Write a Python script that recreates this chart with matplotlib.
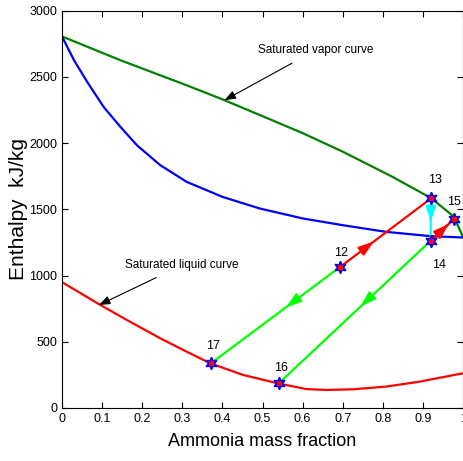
import numpy as np
import matplotlib
matplotlib.use("Agg")
import matplotlib.pyplot as plt

# saturated vapor curve (dark green)
vap_x = [0.0, 0.146, 0.311, 0.40, 0.493, 0.60, 0.70, 0.824, 0.92, 0.977, 1.0]
vap_h = [2805, 2625, 2436, 2330, 2212, 2075, 1935, 1745, 1585, 1445, 1290]

# second vapor curve (blue)
blue_x = [0.0, 0.03, 0.063, 0.104, 0.146, 0.187, 0.245, 0.311, 0.40, 0.493, 0.60, 0.70, 0.807, 0.92, 1.0]
blue_h = [2805, 2625, 2461, 2272, 2121, 1983, 1833, 1707, 1594, 1506, 1431, 1380, 1330, 1297, 1287]

# saturated liquid curve (red)
liq_x = [0.0, 0.096, 0.162, 0.245, 0.303, 0.37, 0.452, 0.54, 0.609, 0.659, 0.725, 0.807, 0.89, 1.0]
liq_h = [950, 777, 664, 526, 437, 337, 249, 185, 143, 136, 141, 161, 198, 262]

# state points
pt_names = ["12", "13", "14", "15", "16", "17"]
pt_x = [0.694, 0.92, 0.919, 0.977, 0.54, 0.371]
pt_h = [1066, 1582, 1262, 1425, 185, 337]

# process lines: (from, to, colour, arrow position along segment)
paths = [("12", "13", "#ff0000", 0.37),
         ("14", "15", "#ff0000", 0.78),
         ("13", "14", "#00ffff", 0.55),
         ("12", "17", "#00ff00", 0.42),
         ("14", "16", "#00ff00", 0.46)]

# label offsets for state point numbers (in data units)
lbl_dx = {"12": 0.002, "13": 0.01, "14": 0.021, "15": 0.0, "16": 0.007, "17": 0.006}
lbl_dh = {"12": 103, "13": 138, "14": -184, "15": 131, "16": 117, "17": 131}

plt.rcParams['font.family'] = ['Liberation Sans', 'DejaVu Sans']

fig = plt.figure(figsize=(4.64, 4.61), dpi=100)
ax = fig.add_axes([0.1336, 0.115, 0.8644, 0.862])

ax.plot(vap_x, vap_h, color="#008000", lw=1.6)
ax.plot(blue_x, blue_h, color="#0000ff", lw=1.6)
ax.plot(liq_x, liq_h, color="#ff0000", lw=1.6)

pts = {n: (x, h) for n, x, h in zip(pt_names, pt_x, pt_h)}
for a, b, c, f in paths:
    (x0, h0), (x1, h1) = pts[a], pts[b]
    ax.plot([x0, x1], [h0, h1], color=c, lw=1.6)
    tx, th = x0 + f * (x1 - x0), h0 + f * (h1 - h0)
    sx, sh = x0 + (f - 0.05) * (x1 - x0), h0 + (f - 0.05) * (h1 - h0)
    ax.annotate("", xy=(tx, th), xytext=(sx, sh),
                arrowprops=dict(arrowstyle="-|>,head_length=0.9,head_width=0.3",
                                color=c, lw=1.6, shrinkA=0, shrinkB=0))

ax.plot(pt_x, pt_h, linestyle="none", marker=(6, 1, 0), ms=9,
        mfc="#0000ff", mec="#0000ff", zorder=5)
ax.plot(pt_x, pt_h, linestyle="none", marker="s", ms=2.5,
        mfc="#ff0000", mec="#ff0000", zorder=6)
for n, x, h in zip(pt_names, pt_x, pt_h):
    ax.text(x + lbl_dx[n], h + lbl_dh[n], n, fontsize=9, ha="center", va="center")

ax.annotate("Saturated vapor curve", xy=(0.405, 2323), xytext=(0.488, 2700),
            fontsize=8.5, ha="left", va="center",
            arrowprops=dict(arrowstyle="-|>,head_length=0.8,head_width=0.3",
                            color="black", lw=0.8, shrinkA=6, shrinkB=0))
ax.annotate("Saturated liquid curve", xy=(0.092, 777), xytext=(0.158, 1078),
            fontsize=8.5, ha="left", va="center",
            arrowprops=dict(arrowstyle="-|>,head_length=0.8,head_width=0.3",
                            color="black", lw=0.8, shrinkA=6, shrinkB=0))

ax.set_xlim(0, 1)
ax.set_ylim(0, 3000)
ax.set_xticks(np.arange(0, 1.01, 0.1))
ax.set_xticklabels(["0", "0.1", "0.2", "0.3", "0.4", "0.5", "0.6", "0.7", "0.8", "0.9", "1"])
ax.set_yticks(range(0, 3001, 500))
ax.tick_params(direction="in", top=True, right=True, labelsize=9, length=4)
ax.set_xlabel("Ammonia mass fraction", fontsize=13, labelpad=6)
ax.set_ylabel("Enthalpy  kJ/kg", fontsize=15, labelpad=1)

fig.savefig("out.png", dpi=100)
